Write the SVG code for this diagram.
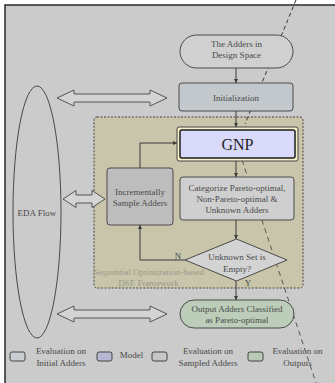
<svg xmlns="http://www.w3.org/2000/svg" width="335" height="383" viewBox="0 0 335 383">
  <style>
    text { font-family: "Liberation Serif", "Times New Roman", serif; font-size: 9px; fill: #4a4a4a; text-anchor: middle; }
    .node { stroke: #4a4a4a; stroke-width: 1; }
    .conn { stroke: #3a3a3a; stroke-width: 1; fill: none; }
    .hollow { fill: #d4d4d4; stroke: #555; stroke-width: 1; }
    .fold1 { stroke: #333; stroke-width: 1; stroke-dasharray: 4 3; fill: none; }
    .fold2 { stroke: #555; stroke-width: 1; stroke-dasharray: 5 4; fill: none; }
    .leg { stroke: #444; stroke-width: 1; }
  </style>
  <defs>
    <marker id="ah" viewBox="0 0 6 6" refX="6" refY="3" markerWidth="4" markerHeight="4" orient="auto" markerUnits="userSpaceOnUse">
      <path d="M0,0 L6,3 L0,6 Z" fill="#3a3a3a"/>
    </marker>
  </defs>

  <!-- page -->
  <rect x="0" y="0" width="335" height="383" fill="#ffffff"/>
  <rect x="5" y="5" width="330" height="378" fill="#cbcbcb"/>
  <path d="M5,383 L5,5 L335,5" fill="none" stroke="#2a2a2a" stroke-width="1.5"/>

  <!-- framework region -->
  <g id="framework">
    <rect x="94" y="117" width="209" height="171" rx="3" fill="#c8c5aa" stroke="#444" stroke-width="1" stroke-dasharray="2 1.5"/>
    <text x="148.5" y="275" style="fill:#9c9a8a">Sequential Optimization-based</text>
    <text x="148.5" y="286" style="fill:#9c9a8a">DSE Framework</text>
  </g>

  <!-- legend -->
  <g id="legend">
    <rect class="leg" x="10" y="352" width="15" height="9" rx="2" fill="#c9ced3"/>
    <text x="61" y="354">Evaluation on</text>
    <text x="61" y="366">Initial Adders</text>
    <rect class="leg" x="97" y="352" width="15" height="9" rx="2" fill="#b8b8d2"/>
    <text x="131.5" y="358">Model</text>
    <rect class="leg" x="152" y="352" width="15" height="9" rx="2" fill="#c6c6c6"/>
    <text x="208" y="354">Evaluation on</text>
    <text x="208" y="366">Sampled Adders</text>
    <rect class="leg" x="248" y="352" width="15" height="9" rx="2" fill="#b9cbb6"/>
    <text x="297.5" y="354">Evaluation on</text>
    <text x="297.5" y="366">Outputs</text>
  </g>

  <!-- fold guide lines -->
  <path class="fold1" d="M296,0 L245,124"/>
  <path class="fold2" d="M242,160 L316,383"/>

  <!-- nodes -->
  <g id="eda-flow">
    <ellipse class="node" cx="37" cy="212" rx="24" ry="126" fill="#cbcbcb"/>
    <text x="37" y="216">EDA Flow</text>
  </g>

  <g id="design-space">
    <rect class="node" x="180" y="35" width="113" height="33" rx="16.5" fill="#d0d0d0"/>
    <text x="236.5" y="46.5">The Adders in</text>
    <text x="236.5" y="57.5">Design Space</text>
  </g>

  <g id="initialization">
    <rect class="node" x="179" y="83" width="114" height="28" rx="3" fill="#c3c8cd"/>
    <text x="236" y="101">Initialization</text>
  </g>

  <g id="gnp">
    <rect x="177" y="127" width="121" height="34" rx="2" fill="#f3efc6" stroke="#444" stroke-width="1"/>
    <rect x="180" y="130" width="115" height="28" rx="2" fill="#d9d9fa" stroke="#1e1e1e" stroke-width="1.5"/>
    <text x="237.5" y="150" style="font-size:16px;fill:#1e1e1e">GNP</text>
  </g>

  <g id="sample">
    <rect class="node" x="107" y="168" width="66" height="57" rx="3" fill="#bdbdbd"/>
    <text x="140" y="195">Incrementally</text>
    <text x="140" y="206">Sample Adders</text>
  </g>

  <g id="categorize">
    <rect class="node" x="180" y="177" width="114" height="43" rx="3" fill="#cfcfcf"/>
    <text x="237" y="191">Categorize Pareto-optimal,</text>
    <text x="237" y="202">Non-Pareto-optimal &amp;</text>
    <text x="237" y="213">Unknown Adders</text>
  </g>

  <g id="decision">
    <polygon class="node" points="236.5,239 287,260 236.5,281 185,260" fill="#d3d3d3"/>
    <text x="237" y="260">Unknown Set is</text>
    <text x="237" y="272">Empty?</text>
  </g>

  <g id="output">
    <rect class="node" x="180" y="300" width="114" height="28" rx="14" fill="#bccdb9"/>
    <text x="237" y="312">Output Adders Classified</text>
    <text x="237" y="323">as Pareto-optimal</text>
  </g>

  <!-- connectors -->
  <g id="connectors">
    <path class="conn" d="M236,68 L236,83" marker-end="url(#ah)"/>
    <path class="conn" d="M236,111 L236,127" marker-end="url(#ah)"/>
    <path class="conn" d="M236,161 L236,177" marker-end="url(#ah)"/>
    <path class="conn" d="M236,220 L236,239" marker-end="url(#ah)"/>
    <path class="conn" d="M236,281 L236,300" marker-end="url(#ah)"/>
    <path class="conn" d="M185,260 L140,260 L140,225" marker-end="url(#ah)"/>
    <path class="conn" d="M140,168 L140,143 L177,143" marker-end="url(#ah)"/>
    <text x="178" y="259">N</text>
    <text x="248" y="286">Y</text>

    <!-- data exchange with the EDA flow -->
    <path class="hollow" d="M57,98 L74,90 L74,94 L150,94 L150,90 L167,98 L150,106 L150,102 L74,102 L74,106 Z"/>
    <path class="hollow" d="M63,199 L76,190.5 L76,195 L92,195 L92,190.5 L105,199 L92,207.5 L92,203 L76,203 L76,207.5 Z"/>
    <path class="hollow" d="M57,314 L74,306 L74,310 L150,310 L150,306 L167,314 L150,322 L150,318 L74,318 L74,322 Z"/>
  </g>
</svg>
